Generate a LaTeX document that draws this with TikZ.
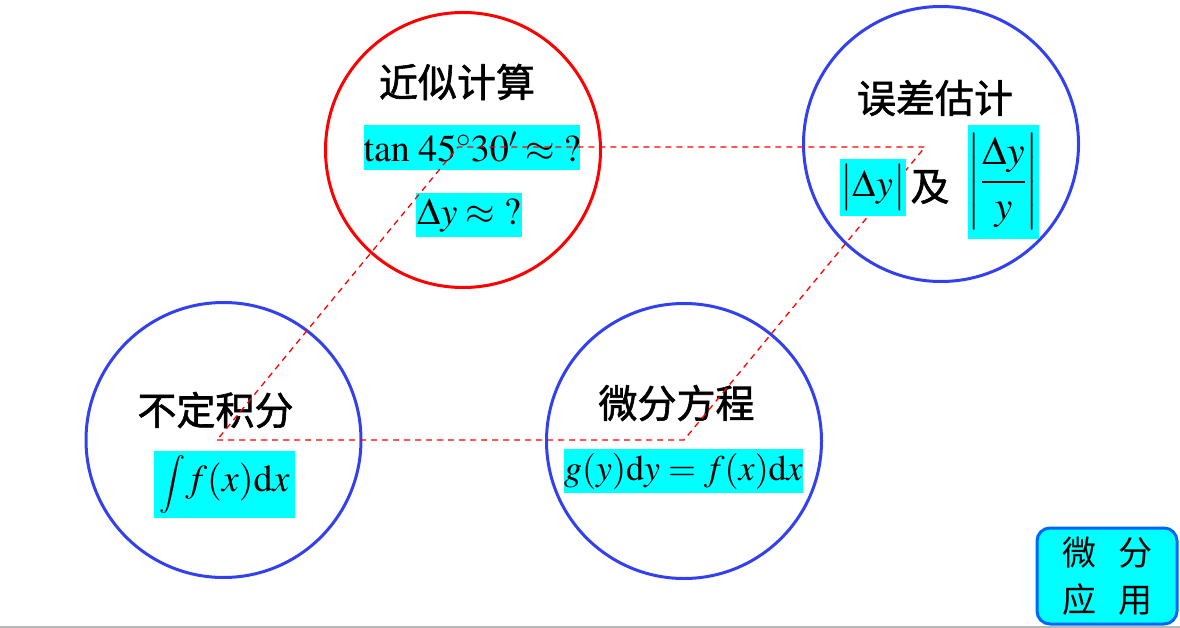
\documentclass[tikz,border=0pt]{standalone}
\usepackage{amsmath}
\usepackage{mathptmx}
\usepackage{fontspec}
\setmainfont{Liberation Serif}
\newfontfamily\cjk{Noto Sans CJK SC}
\newfontfamily\cjkheavy{Noto Sans CJK SC}[FakeBold=1.5]
\usetikzlibrary{positioning}
\definecolor{mred}{rgb}{1, 0, 0}
\definecolor{mblue}{rgb}{0.2, 0.25, 0.95}
\definecolor{mcyan}{rgb}{0, 1, 1}
\definecolor{medge}{rgb}{0, 0.4, 1}
\definecolor{mgray}{rgb}{0.72, 0.72, 0.72}
\tikzset{topic/.style = {circle, draw=mblue, line width=3pt, minimum size=275pt,
                         inner sep=0pt},
         title/.style = {font=\cjkheavy\fontsize{39}{42}\selectfont},
         formula/.style = {fill=mcyan, inner sep=0pt, font=\fontsize{38}{42}\selectfont},
         link/.style = {mred, line width=1.3pt, dash pattern=on 6pt off 5pt}}

\begin{document}
\begin{tikzpicture}[x=1pt, y=-1pt]
    \useasboundingbox (0, 0) rectangle (1180, 628);
    \draw [mgray, line width=1.5pt] (0, 627) -- (1180, 627);

    \node [topic, draw=mred] (approx) at (463, 150) {};
    \node [topic] (error) at (941, 144) {};
    \node [topic] (integral) at (223.5, 440) {};
    \node [topic] (equation) at (684, 441) {};

    \node [title] (approxtitle) at (457, 82) {近似计算};
    \node [title] (errortitle) at (935, 98) {误差估计};
    \node [title] (integraltitle) at (215.5, 410) {不定积分};
    \node [title] (equationtitle) at (676.5, 403) {微分方程};

    \node [formula, minimum width=216pt, minimum height=45pt] (tan) at (472, 147.5)
        {$\tan\, 45^\circ 30' \approx {?}$};
    \node [formula, minimum width=106pt, minimum height=44pt] (dy) at (469, 215)
        {$\Delta y \approx {?}$};
    \node [formula, minimum width=70pt, minimum height=114pt,
           font=\fontsize{40}{44}\selectfont] (rel) at (1003.5, 182)
        {$\left|\dfrac{\Delta y}{y}\right|$};
    \node [title] (and) at (930, 187) {及};
    \node [formula, minimum width=141pt, minimum height=67pt] (int) at (224.5, 484.5)
        {{\fontsize{29}{30}\selectfont$\displaystyle\int$}$f(x)\mathrm{d}x$};
    \node [formula, minimum width=237pt, minimum height=44pt,
           font=\fontsize{36}{40}\selectfont] (ode) at (683.5, 471)
        {$g(y)\mathrm{d}y = f(x)\mathrm{d}x$};

    \coordinate (c1) at (217, 440);
    \coordinate (c2) at (684, 440);
    \coordinate (c3) at (925, 147);
    \coordinate (c4) at (458, 147);
    \draw [link] (c1) -- (c2) -- (c3) -- (c4) -- cycle;

    \node [formula, minimum width=62pt, minimum height=57pt] (abs) at (873, 187.5)
        {$\bigl|\Delta y\bigr|$};

    \node [draw=medge, fill=mcyan, line width=3pt, rounded corners=13pt,
           minimum width=140pt, minimum height=96pt, align=center,
           font=\cjk\fontsize{34}{47}\selectfont] (menu) at (1107, 576)
        {微\hspace{22pt}分\\应\hspace{22pt}用};
\end{tikzpicture}
\end{document}
